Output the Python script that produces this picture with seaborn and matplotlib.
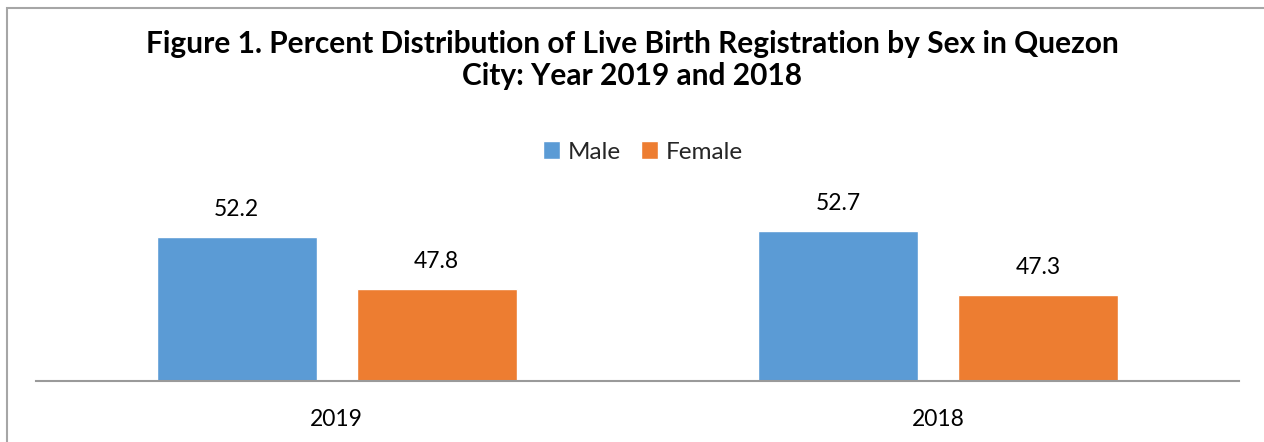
import pandas as pd
import matplotlib.pyplot as plt
import seaborn as sns
from matplotlib.patches import Rectangle

# data
years = ['2019', '2018']
sexes = ['Male', 'Female']
male_pct = [52.2, 52.7]
female_pct = [47.8, 47.3]
colors = ['#5B9BD5', '#ED7D31']

df = pd.DataFrame({
    'year': years * 2,
    'sex': [sexes[0]] * 2 + [sexes[1]] * 2,
    'pct': male_pct + female_pct,
})

sns.set_theme(style="white")
plt.rcParams['font.family'] = ['Lato', 'DejaVu Sans']

fig = plt.figure(figsize=(12.64, 4.42), dpi=100)
ax = fig.add_axes([36 / 1264, 61 / 442, 1203 / 1264, 236 / 442])

sns.barplot(data=df, x='year', y='pct', hue='sex', order=years, hue_order=sexes,
            palette=colors, width=0.665, gap=0.2, saturation=1, ax=ax, legend=True)

ax.set_ylim(40, 60)
ax.set_xlim(-0.5, 1.5)
ax.set_xlabel('')
ax.set_ylabel('')
ax.set_yticks([])
ax.tick_params(axis='x', length=0, labelsize=16.5, pad=20, colors='black')
for s in ['top', 'right', 'left']:
    ax.spines[s].set_visible(False)
ax.spines['bottom'].set_color('#9a9a9a')
ax.spines['bottom'].set_linewidth(1.5)

for cont in ax.containers:
    ax.bar_label(cont, fmt='%.1f', padding=12, fontsize=16.5, color='black')

ax.legend(loc='center', bbox_to_anchor=(643 / 1264, 1 - 152 / 442), bbox_transform=fig.transFigure,
          ncol=2, frameon=False, fontsize=17.5, handlelength=0.7, handleheight=0.7,
          handletextpad=0.35, columnspacing=0.8)

fig.text(0.5, 1 - 60 / 442,
         'Figure 1. Percent Distribution of Live Birth Registration by Sex in Quezon\nCity: Year 2019 and 2018',
         ha='center', va='center', fontsize=21.5, fontweight='bold', linespacing=1.2,
         color='black')

# chart border (cut off at right and bottom in the reference)
fig.patches.append(Rectangle((7 / 1264, -0.1), 1.2, 1.1 - 8 / 442, transform=fig.transFigure,
                             fill=False, edgecolor='#a6a6a6', linewidth=1.5))

fig.savefig('out.png', dpi=100, facecolor='white')
